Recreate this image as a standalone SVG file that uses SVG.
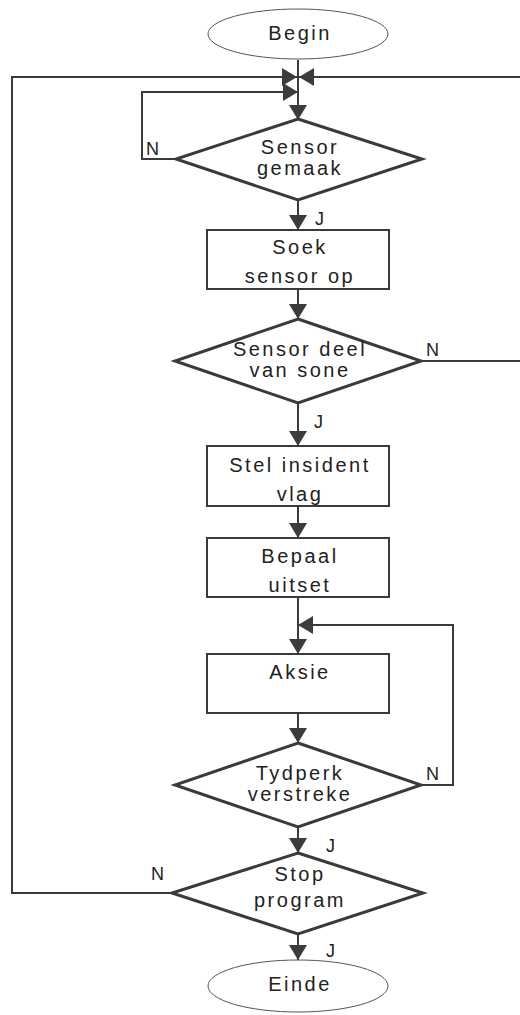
<svg xmlns="http://www.w3.org/2000/svg" width="520" height="1015" viewBox="0 0 520 1015">
<defs>
<style>
.t{font-family:"Liberation Sans",Arial,sans-serif;font-size:20px;letter-spacing:2.5px;fill:#222;text-anchor:middle}
.l{font-family:"Liberation Sans",Arial,sans-serif;font-size:18px;fill:#222}
.dia{fill:#fff;stroke:#3a3a3a;stroke-width:3;stroke-linejoin:miter}
.box{fill:#fff;stroke:#3a3a3a;stroke-width:2}
.ell{fill:#fff;stroke:#555;stroke-width:1}
.c{fill:none;stroke:#3a3a3a;stroke-width:2}
</style>
<marker id="ah" viewBox="0 0 15 18" refX="15" refY="9" markerWidth="15" markerHeight="18" orient="auto" markerUnits="userSpaceOnUse">
<path d="M0,0 L15,9 L0,18 Z" fill="#3c3c3c"/>
</marker>
</defs>
<rect width="520" height="1015" fill="#fff"/>
<g id="connectors">
<path class="c" d="M298,60 V120" marker-end="url(#ah)"/>
<path class="c" d="M176,159 H142 V92 H298" marker-end="url(#ah)"/>
<path class="c" d="M172,893 H12 V77 H297" marker-end="url(#ah)"/>
<path class="c" d="M421,361 H524 V77 H299" marker-end="url(#ah)"/>
<path class="c" d="M298,200 V230" marker-end="url(#ah)"/>
<path class="c" d="M298,289 V319" marker-end="url(#ah)"/>
<path class="c" d="M298,403 V446" marker-end="url(#ah)"/>
<path class="c" d="M298,506 V538" marker-end="url(#ah)"/>
<path class="c" d="M298,597 V654" marker-end="url(#ah)"/>
<path class="c" d="M421,785 H453 V625 H298" marker-end="url(#ah)"/>
<path class="c" d="M298,713 V743" marker-end="url(#ah)"/>
<path class="c" d="M298,827 V853" marker-end="url(#ah)"/>
<path class="c" d="M298,934 V960" marker-end="url(#ah)"/>
<text class="l" x="146" y="155">N</text>
<text class="l" x="315" y="225">J</text>
<text class="l" x="426" y="356">N</text>
<text class="l" x="314" y="428">J</text>
<text class="l" x="426" y="780">N</text>
<text class="l" x="326" y="852">J</text>
<text class="l" x="151" y="880">N</text>
<text class="l" x="326" y="957">J</text>
</g>
<g id="begin">
<ellipse class="ell" cx="298" cy="34" rx="90" ry="25"/>
<text class="t" x="300" y="40">Begin</text>
</g>
<g id="sensor-gemaak">
<polygon class="dia" points="298,119 422,159 298,200 176,159"/>
<text class="t" x="300" y="154">Sensor</text>
<text class="t" x="300" y="175">gemaak</text>
</g>
<g id="soek-sensor">
<rect class="box" x="207" y="230" width="182" height="59"/>
<text class="t" x="300" y="254">Soek</text>
<text class="t" x="300" y="283">sensor op</text>
</g>
<g id="sensor-deel">
<polygon class="dia" points="298,319 421,361 298,403 175,361"/>
<text class="t" x="300" y="356">Sensor deel</text>
<text class="t" x="300" y="377">van sone</text>
</g>
<g id="stel-insident">
<rect class="box" x="207" y="446" width="182" height="60"/>
<text class="t" x="300" y="472">Stel insident</text>
<text class="t" x="300" y="501">vlag</text>
</g>
<g id="bepaal-uitset">
<rect class="box" x="207" y="538" width="182" height="59"/>
<text class="t" x="300" y="563">Bepaal</text>
<text class="t" x="300" y="592">uitset</text>
</g>
<g id="aksie">
<rect class="box" x="207" y="654" width="182" height="59"/>
<text class="t" x="300" y="679">Aksie</text>
</g>
<g id="tydperk">
<polygon class="dia" points="298,743 421,785 298,827 175,785"/>
<text class="t" x="300" y="780">Tydperk</text>
<text class="t" x="300" y="801">verstreke</text>
</g>
<g id="stop-program">
<polygon class="dia" points="298,853 423,893 298,934 172,893"/>
<text class="t" x="300" y="881">Stop</text>
<text class="t" x="300" y="907">program</text>
</g>
<g id="einde">
<ellipse class="ell" cx="298" cy="986" rx="90" ry="26"/>
<text class="t" x="300" y="991">Einde</text>
</g>
</svg>
